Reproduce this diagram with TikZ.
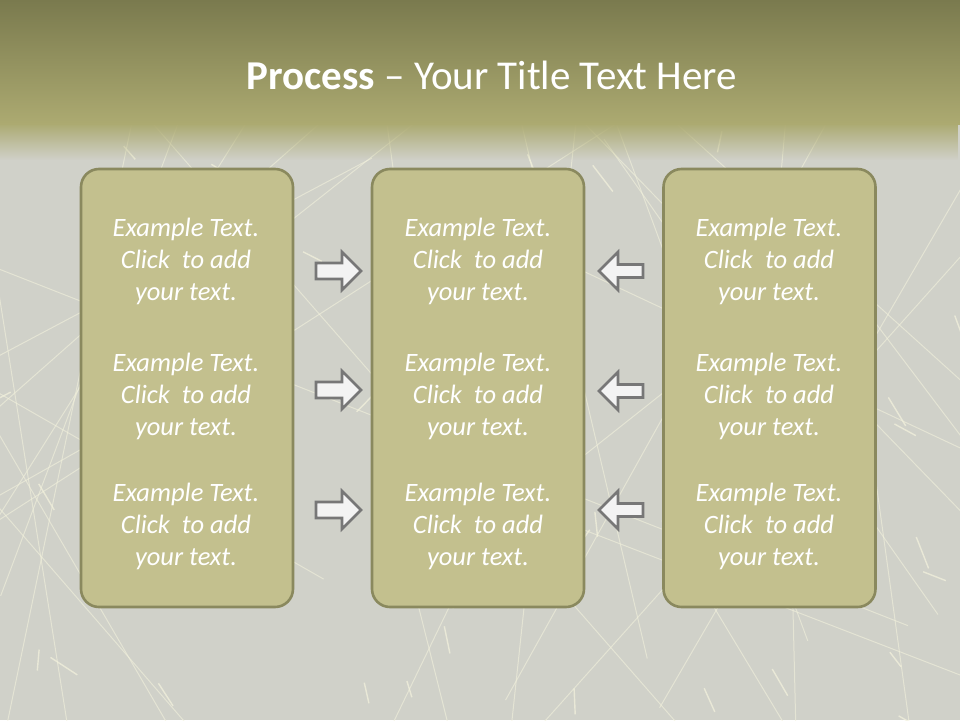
\documentclass[tikz,border=0pt]{standalone}
\usepackage{fontspec}
\setmainfont{Carlito}
\usetikzlibrary{fadings}
\definecolor{topdark}{HTML}{7A7A4E}
\definecolor{toplight}{HTML}{ACAA71}
\definecolor{bggray}{HTML}{D0D1C9}
\definecolor{bgline}{HTML}{F2F1DC}
\definecolor{boxfill}{HTML}{C3C08E}
\definecolor{boxedge}{HTML}{8A895E}
\definecolor{arrfill}{HTML}{F3F3F3}
\definecolor{arredge}{HTML}{777777}
\tikzset{
  roadline/.style={draw=bgline, line width=1pt, opacity=0.6},
  roaddash/.style={draw=bgline, line width=1.4pt, opacity=0.75},
  panel/.style={draw=boxedge, line width=2.6pt, fill=boxfill, rounded corners=18pt},
  arrshape/.style={draw=arredge, fill=arrfill, line width=2.6pt, line join=miter},
  bodytext/.style={align=center, text=white, font=\fontsize{26.5}{32}\selectfont\itshape, inner sep=0pt},
  titletext/.style={text=white, font=\fontsize{41}{48}\selectfont, inner sep=0pt}
}
\newcommand{\exampletext}{Example Text.\\Click\ \ to add\\your text.}
\begin{document}
\begin{tikzpicture}[x=1pt,y=-1pt]
\useasboundingbox (0,0) rectangle (960,720);
% background
\fill[bggray] (0,0) rectangle (960,720);
\begin{scope}
\clip (0,120) rectangle (960,720);
\pgfmathsetseed{23}
\foreach \i in {1,...,34}{
  \pgfmathsetmacro\xa{rnd*960}
  \pgfmathsetmacro\ya{120+rnd*600}
  \pgfmathsetmacro\ang{20+rnd*140}
  \pgfmathsetmacro\len{400+rnd*700}
  \draw[roadline] (\xa,\ya) ++(\ang:-\len/2) -- ++(\ang:\len);
}
\foreach \i in {1,...,45}{
  \pgfmathsetmacro\xa{rnd*960}
  \pgfmathsetmacro\ya{130+rnd*590}
  \pgfmathsetmacro\ang{20+rnd*140}
  \pgfmathsetmacro\len{14+rnd*20}
  \draw[roaddash] (\xa,\ya) -- ++(\ang:\len);
}
\end{scope}
\shade[top color=topdark, bottom color=toplight] (0,0) rectangle (960,124);
\fill[toplight, path fading=south] (0,123) rectangle (960,160);
% title
\node[titletext] (title) at (492,75) {\textbf{Process} – Your Title Text Here};
% panels
\node[panel, minimum width=212pt, minimum height=438pt] (L) at (187,388) {};
\node[panel, minimum width=212pt, minimum height=438pt] (M) at (478,388) {};
\node[panel, minimum width=212pt, minimum height=438pt] (R) at (769.5,388) {};
% texts
\foreach \col/\cx in {L/186,M/478,R/769}{
  \foreach \row/\cy in {1/261,2/396,3/526}{
    \node[bodytext] (t\col\row) at (\cx,\cy) {\exampletext};
  }
}
% arrows
\coordinate (ra1) at (338,271);
\coordinate (ra2) at (338,390);
\coordinate (ra3) at (338,510);
\coordinate (la1) at (621,271);
\coordinate (la2) at (621,391);
\coordinate (la3) at (621,510);
\foreach \k in {1,2,3}{
  \draw[arrshape, shift={(ra\k)}] (-22,-8) -- (4,-8) -- (4,-19) -- (23,0) -- (4,19) -- (4,8) -- (-22,8) -- cycle;
  \draw[arrshape, shift={(la\k)}] (22,-6.5) -- (-3,-6.5) -- (-3,-19) -- (-22,0) -- (-3,19) -- (-3,6.5) -- (22,6.5) -- cycle;
}
\end{tikzpicture}
\end{document}
